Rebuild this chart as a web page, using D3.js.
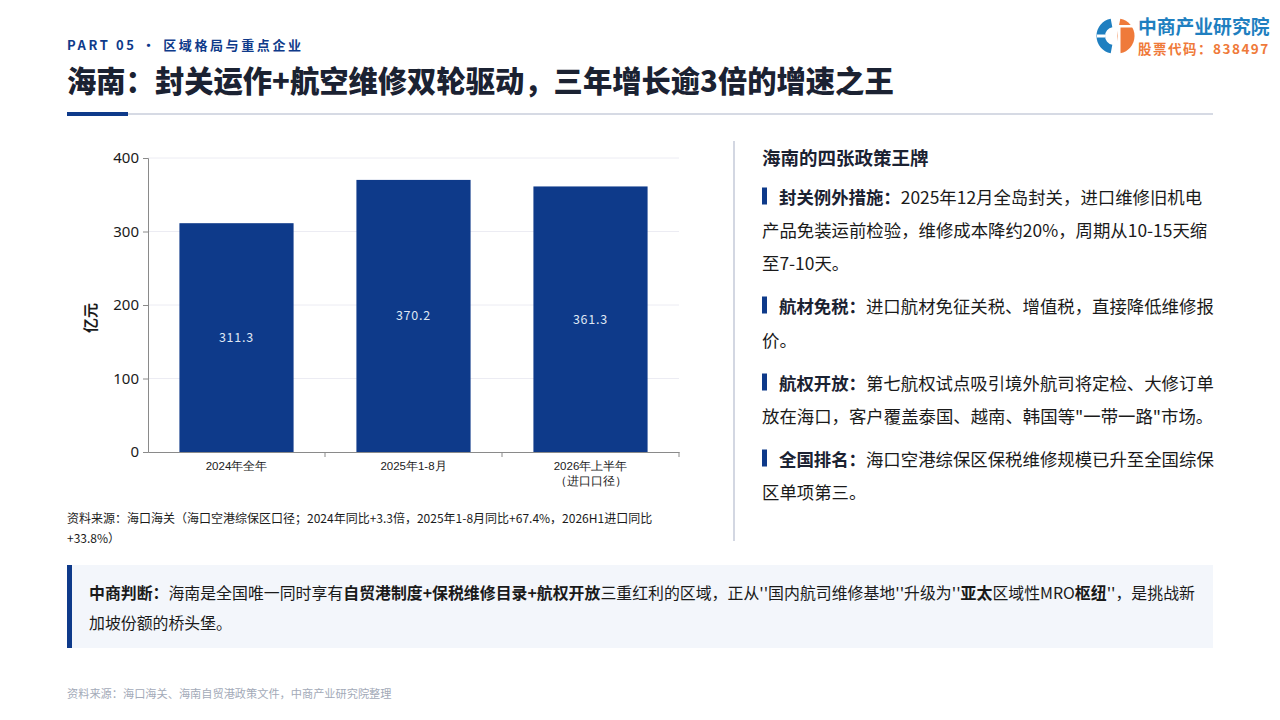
<!DOCTYPE html>
<html><head><meta charset="utf-8">
<script src="https://cdn.jsdelivr.net/npm/d3@7"></script>
<style>
html,body{margin:0;padding:0;background:#fff;}
svg{display:block;font-family:"Noto Sans CJK SC","Noto Sans",sans-serif;}
</style></head>
<body><svg id="c" width="1280" height="720"></svg>
<script>
// ---- data ----
const categories = ["2024年全年", "2025年1-8月", "2026年上半年\n（进口口径）"];
const values = [311.3, 370.2, 361.3];
const yTicks = [0, 100, 200, 300, 400];
const yDomain = [0, 400];

const NAVY = "#0e3a8a", DARK = "#1b2232";
const svg = d3.select("#c");

// ---- header ----
svg.append("text").attr("x", 67).attr("y", 50).attr("font-size", 13).attr("font-weight", 700)
  .attr("letter-spacing", "2.6px").attr("fill", NAVY).text("PART 05 · 区域格局与重点企业");
svg.append("text").attr("x", 67).attr("y", 92).attr("font-size", 29.3).attr("font-weight", 900)
  .attr("fill", DARK).text("海南：封关运作+航空维修双轮驱动，三年增长逾3倍的增速之王");
svg.append("rect").attr("x", 128).attr("y", 113).attr("width", 1085).attr("height", 2).attr("fill", "#d6dae4");
svg.append("rect").attr("x", 67).attr("y", 112).attr("width", 61).attr("height", 4).attr("fill", NAVY);

// ---- logo ----
const lg = svg.append("g").attr("transform", "translate(1114,36)");
const arc = d3.arc();
lg.append("path").attr("d", arc({innerRadius: 9, outerRadius: 17.5, startAngle: Math.PI*0.06, endAngle: Math.PI*0.94}))
  .attr("transform", "scale(-1,1)").attr("fill", "#1f7fc0");
lg.append("rect").attr("x", -17).attr("y", -1.5).attr("width", 8).attr("height", 3).attr("fill", "#fff");
lg.append("path").attr("d", arc({innerRadius: 0, outerRadius: 17.5, startAngle: Math.PI*0.06, endAngle: Math.PI*0.94}))
  .attr("transform", "translate(3,0)").attr("fill", "#ef7a3a");
lg.append("rect").attr("x", 3.5).attr("y", -9).attr("width", 3).attr("height", 27).attr("fill", "#fff");
lg.append("rect").attr("x", 3).attr("y", -11).attr("width", 16).attr("height", 2.5).attr("fill", "#fff");
svg.append("text").attr("x", 1138).attr("y", 34).attr("font-size", 18.8).attr("font-weight", 700)
  .attr("fill", "#1f7fc0").text("中商产业研究院");
svg.append("text").attr("x", 1138).attr("y", 54).attr("font-size", 13.5).attr("font-weight", 700)
  .attr("letter-spacing", "1.5px").attr("fill", "#ef7a3a").text("股票代码：838497");

// ---- chart ----
const L = 148, R = 679, T = 158, B = 452;
const x = d3.scaleBand().domain(categories).range([L, R]).paddingInner(0.355).paddingOuter(0.1775);
const y = d3.scaleLinear().domain(yDomain).range([B, T]);
const cg = svg.append("g");

cg.append("g").selectAll("line").data(yTicks.filter(d => d > 0)).join("line")
  .attr("x1", L).attr("x2", R).attr("y1", d => y(d)).attr("y2", d => y(d))
  .attr("stroke", "#ececf3").attr("stroke-width", 1);

cg.selectAll("rect.bar").data(values).join("rect").attr("class", "bar")
  .attr("x", (d, i) => x(categories[i])).attr("width", x.bandwidth())
  .attr("y", d => y(d)).attr("height", d => B - y(d)).attr("fill", NAVY);

cg.selectAll("text.val").data(values).join("text").attr("class", "val")
  .attr("x", (d, i) => x(categories[i]) + x.bandwidth()/2)
  .attr("y", d => (y(d) + B)/2).attr("dy", "0.35em").attr("text-anchor", "middle")
  .attr("font-size", 12.5).attr("letter-spacing", "0.8px").attr("fill", "#dfe6f3").text(d => d.toFixed(1));

const ya = cg.append("g").attr("transform", `translate(${L},0)`)
  .call(d3.axisLeft(y).tickValues(yTicks).tickSize(5).tickPadding(4));
ya.select(".domain").attr("stroke", "#8a8a8a");
ya.selectAll(".tick line").attr("stroke", "#8a8a8a");
ya.selectAll(".tick text").attr("font-size", 15).attr("fill", "#1a1a1a").attr("font-family", "'Noto Sans','Noto Sans CJK SC',sans-serif");

const xa = cg.append("g").attr("transform", `translate(0,${B})`)
  .call(d3.axisBottom(x).tickSize(0).tickPadding(10));
xa.select(".domain").attr("stroke", "#8a8a8a");
xa.selectAll(".tick text").attr("font-size", 11.5).attr("fill", "#1a1a1a").each(function(d) {
  const t = d3.select(this), parts = d.split("\n");
  t.text(null);
  parts.forEach((p, i) => t.append("tspan").attr("x", 0).attr("dy", i === 0 ? "0.71em" : "1.3em").text(p));
});
const bounds = categories.map((c, i) => x(c) + x.bandwidth() + x.step()*x.paddingInner()/2);
cg.selectAll("line.xt").data(bounds).join("line").attr("class", "xt")
  .attr("x1", d => d).attr("x2", d => d).attr("y1", B).attr("y2", B + 5).attr("stroke", "#8a8a8a");

svg.append("text").attr("transform", "translate(96,318) rotate(-90)").attr("text-anchor", "middle")
  .attr("font-size", 15).attr("font-weight", 700).attr("fill", "#1a1a1a").text("亿元");

svg.append("text").attr("x", 67).attr("y", 523).attr("font-size", 12).attr("fill", "#1a1a1a")
  .text("资料来源：海口海关（海口空港综保区口径；2024年同比+3.3倍，2025年1-8月同比+67.4%，2026H1进口同比");
svg.append("text").attr("x", 67).attr("y", 543).attr("font-size", 12).attr("fill", "#1a1a1a").text("+33.8%）");

// ---- divider ----
svg.append("rect").attr("x", 733).attr("y", 141).attr("width", 2).attr("height", 400).attr("fill", "#d3d7e2");

// ---- right panel ----
svg.append("text").attr("x", 762).attr("y", 157).attr("dominant-baseline", "central")
  .attr("font-size", 18.5).attr("font-weight", 700).attr("fill", DARK).text("海南的四张政策王牌");

const items = [
  {label: "封关例外措施：", lines: ["2025年12月全岛封关，进口维修旧机电", "产品免装运前检验，维修成本降约20%，周期从10-15天缩", "至7-10天。"], ys: [196, 229, 262]},
  {label: "航材免税：", lines: ["进口航材免征关税、增值税，直接降低维修报", "价。"], ys: [305, 339]},
  {label: "航权开放：", lines: ["第七航权试点吸引境外航司将定检、大修订单", "放在海口，客户覆盖泰国、越南、韩国等\"一带一路\"市场。"], ys: [382, 415]},
  {label: "全国排名：", lines: ["海口空港综保区保税维修规模已升至全国综保", "区单项第三。"], ys: [458, 491]}
];
items.forEach(it => {
  svg.append("rect").attr("x", 762).attr("y", it.ys[0] - 8.5).attr("width", 5).attr("height", 17).attr("fill", NAVY);
  it.lines.forEach((ln, i) => {
    const t = svg.append("text").attr("x", i === 0 ? 779 : 762).attr("y", it.ys[i])
      .attr("dominant-baseline", "central").attr("font-size", 17.4).attr("fill", "#1a1a1a");
    if (i === 0) t.append("tspan").attr("font-weight", 700).attr("fill", DARK).text(it.label);
    t.append("tspan").text(ln);
  });
});

// ---- judgement box ----
svg.append("rect").attr("x", 67).attr("y", 565).attr("width", 1146).attr("height", 83).attr("fill", "#f3f6fb");
svg.append("rect").attr("x", 67).attr("y", 565).attr("width", 5).attr("height", 83).attr("fill", NAVY);
const box1 = [
  ["中商判断：", 700], ["海南是全国唯一同时享有", 400], ["自贸港制度+保税维修目录+航权开放", 700],
  ["三重红利的区域，正从''国内航司维修基地''升级为''", 400], ["亚太", 700], ["区域性MRO", 400], ["枢纽", 700], ["''，是挑战新", 400]
];
const t1 = svg.append("text").attr("x", 89).attr("y", 592).attr("dominant-baseline", "central")
  .attr("font-size", 15.9).attr("fill", "#1a1a1a");
box1.forEach(([s, w]) => t1.append("tspan").attr("font-weight", w).text(s));
svg.append("text").attr("x", 89).attr("y", 622).attr("dominant-baseline", "central")
  .attr("font-size", 15.9).attr("fill", "#1a1a1a").text("加坡份额的桥头堡。");

// ---- footer ----
svg.append("text").attr("x", 67).attr("y", 698).attr("font-size", 11.2).attr("fill", "#a3aab8")
  .text("资料来源：海口海关、海南自贸港政策文件，中商产业研究院整理");
</script>
</body></html>
